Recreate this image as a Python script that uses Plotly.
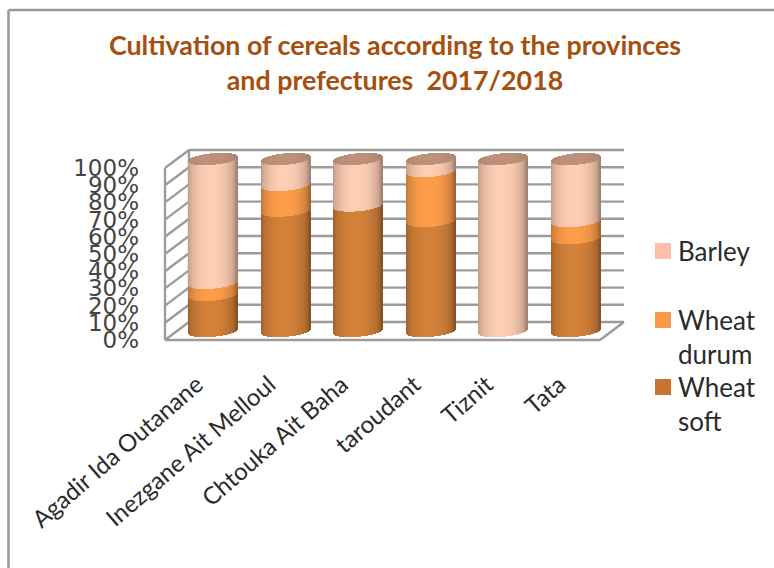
import math
import plotly.graph_objects as go

categories = ["Agadir Ida Outanane", "Inezgane Ait Melloul", "Chtouka Ait Baha", "taroudant", "Tiznit", "Tata"]
wheat_soft = [21, 70, 73, 64, 0, 54]
wheat_durum = [7, 15, 0, 29, 0, 10]
barley = [72, 15, 27, 7, 100, 36]
y_ticks = list(range(0, 101, 10))
title_text = "Cultivation of cereals according to the provinces<br>and prefectures  2017/2018"

COLORS = {"soft": (212, 130, 58), "durum": (255, 158, 74), "barley": (255, 206, 180)}
LEGEND_COLORS = {"soft": "#C8762F", "durum": "#F99A4A", "barley": "#FBC0A7"}
CAP = (190, 146, 124)
GRID = "#9C9C9C"
W, H = 774, 568
L, R, T, B = 140, 640, 130, 365
PX_X, PX_Y = 72.5, 1.72
X_RANGE = [(L - 201.25) / PX_X, (R - 201.25) / PX_X]
Y_RANGE = [(340 - B) / PX_Y, (340 - T) / PX_Y]
DX, DY = 24 / PX_X, 18 / PX_Y      # oblique depth of the box
CX, CY = DX / 2, DY / 2            # cylinders stand mid-depth
HALF = 24.5 / PX_X
B_ELL, TILT = 5.8 / PX_Y, 2.2 / PX_Y
N = 49


def front(u):
    return -B_ELL * math.sqrt(max(0, 1 - u * u)) + TILT * u


def back(u):
    return B_ELL * math.sqrt(max(0, 1 - u * u)) + TILT * u


def shade(rgb, u):
    f = 0.64 + 0.36 * math.sqrt(max(0, 1 - (u + 0.05) ** 2))
    return "rgb(%d,%d,%d)" % tuple(min(255, int(c * f)) for c in rgb)


us = [-1 + 2 * (k + 0.5) / N for k in range(N)]

fig = go.Figure()
series = [("Wheat soft", wheat_soft, "soft"), ("Wheat durum", wheat_durum, "durum"), ("Barley", barley, "barley")]
cum = [0] * len(categories)
for name, vals, key in series:
    xs, bases, hs, cols = [], [], [], []
    for i, v in enumerate(vals):
        for u in us:
            xs.append(i + CX + u * HALF)
            bases.append(cum[i] + CY + front(u))
            hs.append(v)
            cols.append(shade(COLORS[key], u))
    fig.add_trace(go.Bar(x=xs, y=hs, base=bases, width=1.4 / PX_X, name=name, showlegend=False,
                         marker=dict(color=cols, line=dict(width=0)), hoverinfo="skip"))
    cum = [c + v for c, v in zip(cum, vals)]

xs, bases, hs, cols = [], [], [], []
for i, c in enumerate(cum):
    for u in us:
        xs.append(i + CX + u * HALF)
        bases.append(c + CY + front(u))
        hs.append(back(u) - front(u))
        cols.append(shade(CAP, u * 0.6))
fig.add_trace(go.Bar(x=xs, y=hs, base=bases, width=1.4 / PX_X, showlegend=False,
                     marker=dict(color=cols, line=dict(width=0)), hoverinfo="skip"))

x0, x1 = -0.5, len(categories) - 0.5
shapes = []
annotations = []


def seg(xa, ya, xb, yb):
    shapes.append(dict(type="line", xref="x", yref="y", x0=xa, y0=ya, x1=xb, y1=yb, layer="below",
                       line=dict(color=GRID, width=2.4)))


for t in y_ticks:
    seg(x0, t, x0 + DX, t + DY)
    seg(x0 + DX, t + DY, x1 + DX, t + DY)
seg(x0, 0, x0, 100)
seg(x0 + DX, DY, x0 + DX, 100 + DY)
seg(x0, 0, x1, 0)
seg(x1, 0, x1 + DX, DY)


def px(v):
    return (v - L) / (R - L)


def py(v):
    return (B - v) / (B - T)


for a, b, c, d in [(8.5, 10, W, 10), (8.5, 10, 8.5, H)]:
    shapes.append(dict(type="line", xref="paper", yref="paper", x0=px(a), y0=py(b), x1=px(c), y1=py(d),
                       line=dict(color="#999999", width=2.5)))

legend_rows = [("Barley", "barley", 251), ("Wheat<br>durum", "durum", 320), ("Wheat<br>soft", "soft", 387)]
for text, key, yc in legend_rows:
    shapes.append(dict(type="rect", xref="paper", yref="paper", x0=px(655), x1=px(671), y0=py(yc - 8), y1=py(yc + 8),
                       fillcolor=LEGEND_COLORS[key], line=dict(width=0)))
    annotations.append(dict(text=text, xref="paper", yref="paper", x=px(677), y=py(yc - 17), xanchor="left",
                            yanchor="top", align="left", showarrow=False, borderpad=0,
                            font=dict(family="Lato", size=26, color="#2b2b2b")))

fig.update_layout(
    width=W, height=H, margin=dict(l=L, r=W - R, t=T, b=H - B, pad=0),
    paper_bgcolor="white", plot_bgcolor="white", barmode="overlay", bargap=0, showlegend=False,
    shapes=shapes, annotations=annotations,
    title=dict(text=title_text, x=395 / W, xanchor="center", y=1 - 55 / H, yanchor="top",
               font=dict(family="Lato", size=26.8, color="#A5500F", weight="bold")),
    xaxis=dict(range=X_RANGE, tickmode="array", tickvals=[i - 0.06 for i in range(len(categories))], ticktext=categories,
               tickangle=-41, showgrid=False, zeroline=False, showline=False, ticks="",
               tickfont=dict(family="Lato", size=24, color="#2b2b2b")),
    yaxis=dict(range=Y_RANGE, tickmode="array", tickvals=y_ticks, ticktext=["%d%%" % t for t in y_ticks],
               showgrid=False, zeroline=False, showline=False, ticks="",
               tickfont=dict(family="DejaVu Sans", size=23, color="#444444")),
)
fig.write_html("out.html", config={"displayModeBar": False},
               post_script="document.body.style.margin='0';document.documentElement.style.overflow='hidden';")
